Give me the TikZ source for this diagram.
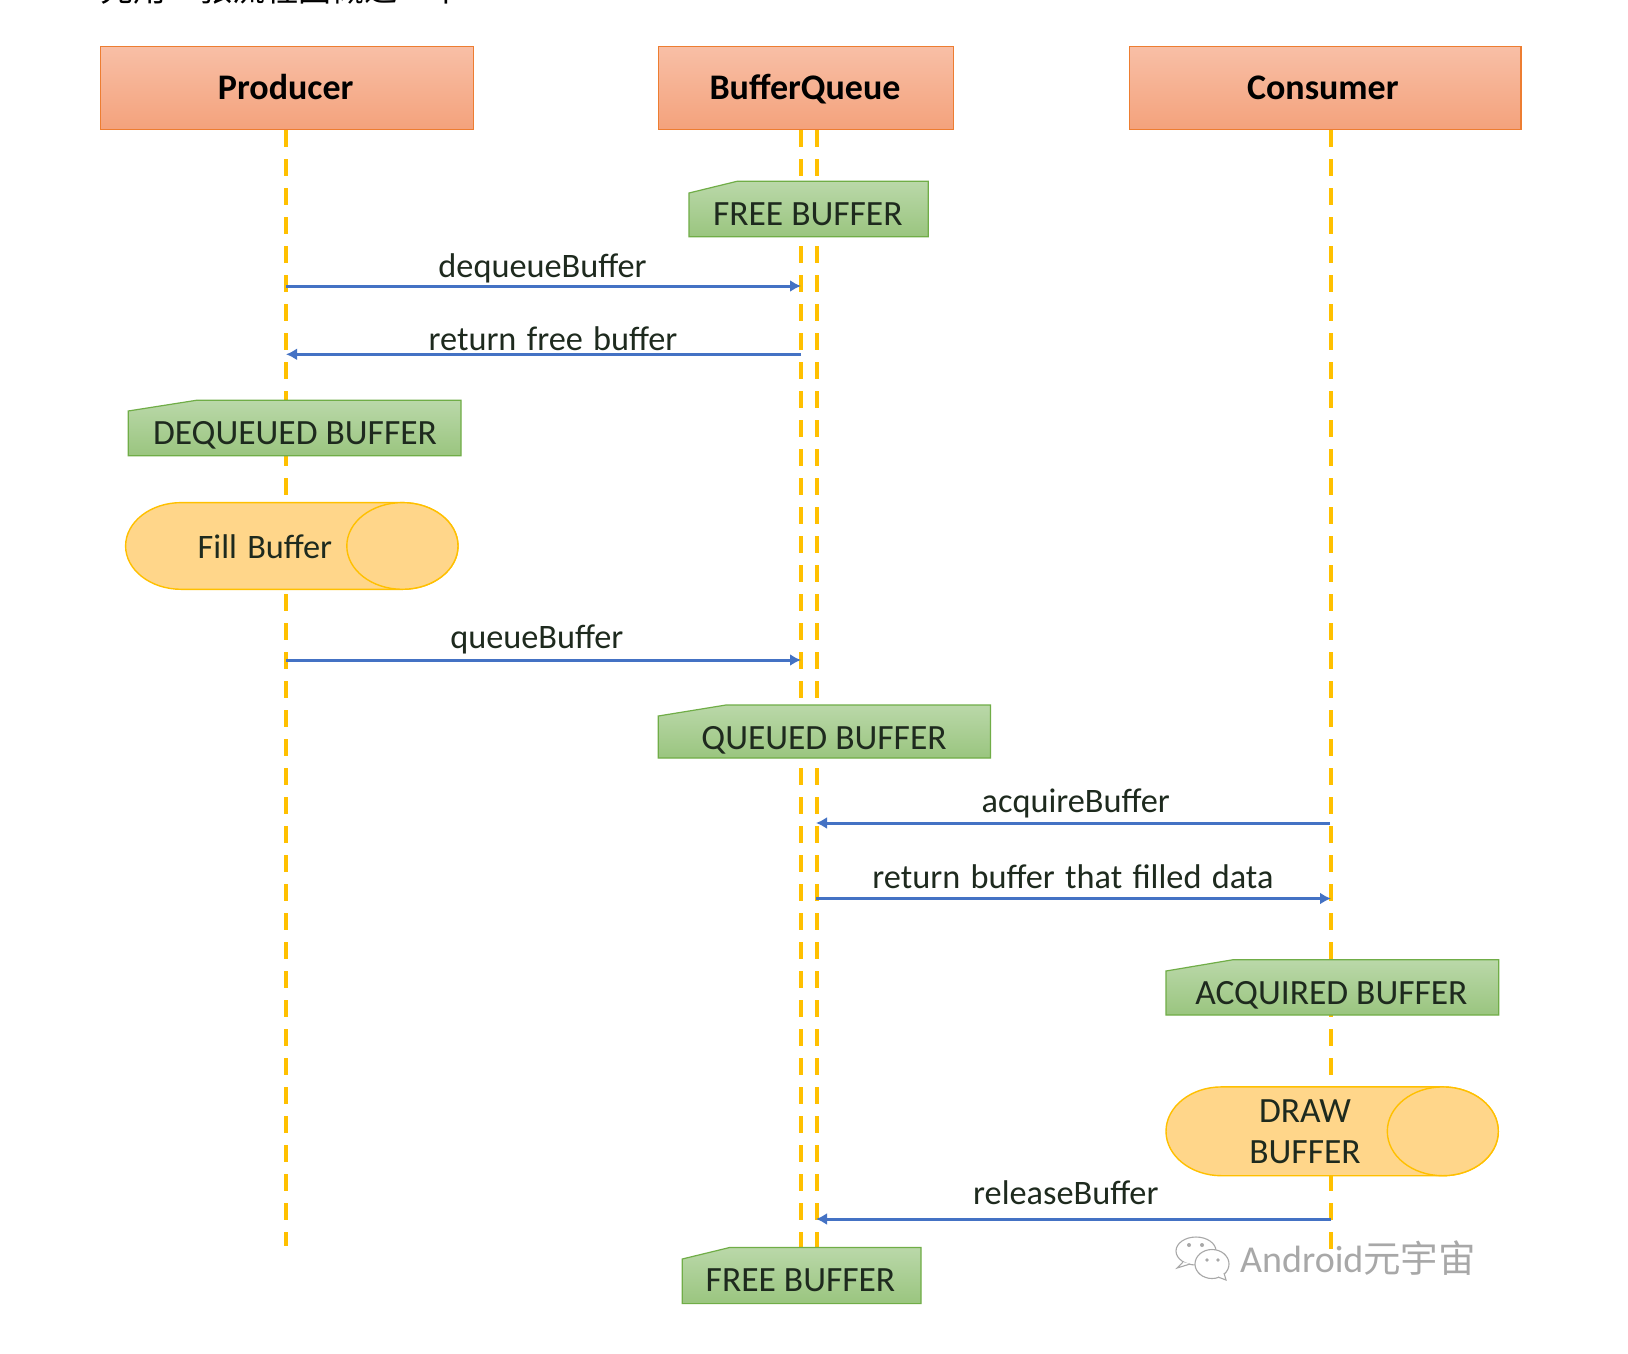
\documentclass[tikz,border=0pt]{standalone}
\usepackage{fontspec}
\setmainfont{Carlito}
\newfontfamily\lblfont[WordSpace=1.33]{Carlito}
\newfontfamily\cjk{Noto Sans CJK SC}
\usetikzlibrary{arrows.meta}
\definecolor{hdrtop}{HTML}{F8BFA6}
\definecolor{hdrbot}{HTML}{F4A27C}
\definecolor{hdredge}{HTML}{ED7D31}
\definecolor{grntop}{HTML}{BAD8A9}
\definecolor{grnbot}{HTML}{9AC57F}
\definecolor{grnedge}{HTML}{70AD47}
\definecolor{canfill}{HTML}{FFD68A}
\definecolor{canedge}{HTML}{FFC000}
\definecolor{msg}{HTML}{4472C4}
\definecolor{ink}{HTML}{1E2A1E}
\definecolor{wm}{HTML}{A8A8A8}
\tikzset{
  hdr/.style={draw=hdredge,line width=1.2pt,top color=hdrtop,bottom color=hdrbot,
    minimum height=82.8pt,inner sep=0pt},
  hdrtxt/.style={anchor=base,inner sep=0pt,text=black,font=\fontsize{36}{42}\selectfont\bfseries},
  life/.style={draw=canedge,line width=4pt,dash pattern=on 17pt off 12pt},
  snip/.style={draw=grnedge,line width=1.2pt,top color=grntop,bottom color=grnbot},
  cyl/.style={draw=canedge,line width=1.4pt,fill=canfill},
  lbl/.style={anchor=base,inner sep=0pt,text=ink,font=\lblfont\fontsize{34.3}{40.7}\selectfont},
  caps/.style={anchor=base,inner sep=0pt,text=ink,font=\fontsize{35.5}{40.7}\selectfont},
  msgline/.style={draw=msg,line width=3pt,-{Latex[length=11pt,width=12pt]}},
  wmline/.style={draw=wm,line width=1.1pt,fill=white},
}
\begin{document}
\begin{tikzpicture}[x=1pt,y=-1pt]
\useasboundingbox (0,0) rectangle (1628,1353);
\fill[white] (0,0) rectangle (1628,1353);
% clipped line of text at the very top
\begin{scope}
\clip (0,0) rectangle (1628,3);
\node[anchor=base west,inner sep=0pt,text=black,font=\fontsize{33}{40}\selectfont\cjk] (intro) at (100,1.3) {先用一张流程图概述一下};
\end{scope}
% headers
\node[hdr,minimum width=373.3pt] (producer) at (286.85,87.8) {};
\node[hdr,minimum width=294.8pt] (queue) at (805.8,87.8) {};
\node[hdr,minimum width=391.3pt] (consumer) at (1325.4,87.8) {};
\node[hdrtxt] (producertxt) at (285.7,99) {Producer};
\node[hdrtxt] (queuetxt) at (805,99) {BufferQueue};
\node[hdrtxt] (consumertxt) at (1322.8,99) {Consumer};
% lifeline anchors
\coordinate (pA) at (286,130);  \coordinate (pB) at (286,1246);
\coordinate (qA) at (801,130);  \coordinate (qB) at (801,1247);
\coordinate (rA) at (816.5,130);\coordinate (rB) at (816.5,1247);
\coordinate (cA) at (1330.5,130);\coordinate (cB) at (1330.5,1252);
\draw[life] (pA) -- (pB);
\draw[life] (qA) -- (qB);
\draw[life] (rA) -- (rB);
\draw[life] (cA) -- (cB);
% state tags
\path[snip] (689,193) -- (737,181.3) -- (928.3,181.3) -- (928.3,236.8) -- (689,236.8) -- cycle;
\node[caps] (free1) at (807.8,225) {FREE BUFFER};
\path[snip] (128.2,411) -- (196.3,400.3) -- (461,400.3) -- (461,455.8) -- (128.2,455.8) -- cycle;
\node[caps] (dequeued) at (295,444.5) {DEQUEUED BUFFER};
\path[snip] (658.3,716) -- (726,705) -- (990.5,705) -- (990.5,758) -- (658.3,758) -- cycle;
\node[caps] (queued) at (824,749.5) {QUEUED BUFFER};
\path[snip] (1166,971) -- (1232.5,959.8) -- (1498.8,959.8) -- (1498.8,1015) -- (1166,1015) -- cycle;
\node[caps] (acquired) at (1331.4,1004) {ACQUIRED BUFFER};
\path[snip] (682.2,1259) -- (730,1247.4) -- (921,1247.4) -- (921,1303.6) -- (682.2,1303.6) -- cycle;
\node[caps] (free2) at (800.5,1291.2) {FREE BUFFER};
% process cans
\path[cyl] (402.4,502.6) -- (181.2,502.6) arc[x radius=55.6pt,y radius=43.35pt,start angle=90,end angle=270]
  -- (402.4,589.3) arc[x radius=55.6pt,y radius=43.35pt,start angle=-90,end angle=90] -- cycle;
\draw[cyl] (402.4,545.95) ellipse[x radius=55.6pt,y radius=43.35pt];
\node[lbl] (fill) at (265,558) {Fill Buffer};
\path[cyl] (1442.8,1086.9) -- (1221.5,1086.9) arc[x radius=55.5pt,y radius=44.4pt,start angle=90,end angle=270]
  -- (1442.8,1175.7) arc[x radius=55.5pt,y radius=44.4pt,start angle=-90,end angle=90] -- cycle;
\draw[cyl] (1442.8,1131.3) ellipse[x radius=55.5pt,y radius=44.4pt];
\node[caps] (drawa) at (1305,1122.5) {DRAW};
\node[caps] (drawb) at (1305,1163.2) {BUFFER};
% message anchors
\coordinate (m1a) at (286,286);   \coordinate (m1b) at (801,286);
\coordinate (m2a) at (801,354.3); \coordinate (m2b) at (286,354.3);
\coordinate (m3a) at (286,660);   \coordinate (m3b) at (801,660);
\coordinate (m4a) at (1330,823);  \coordinate (m4b) at (816,823);
\coordinate (m5a) at (816,898.5); \coordinate (m5b) at (1331,898.5);
\coordinate (m6a) at (1331,1219); \coordinate (m6b) at (816,1219);
\draw[msgline] (m1a) -- (m1b);
\draw[msgline] (m2a) -- (m2b);
\draw[msgline] (m3a) -- (m3b);
\draw[msgline] (m4a) -- (m4b);
\draw[msgline] (m5a) -- (m5b);
\draw[msgline] (m6a) -- (m6b);
\node[lbl] (l1) at (542.5,277.5) {dequeueBuffer};
\node[lbl] (l2) at (553,350) {return free buffer};
\node[lbl] (l3) at (536.8,648.5) {queueBuffer};
\node[lbl] (l4) at (1075.7,812) {acquireBuffer};
\node[lbl] (l5) at (1073,888) {return buffer that filled data};
\node[lbl] (l6) at (1065.8,1204) {releaseBuffer};
% watermark
\draw[wmline] (1196,1251) ellipse[x radius=20pt,y radius=14pt];
\draw[wmline] (1183,1262) -- (1177,1268) -- (1190,1264);
\draw[wmline] (1212,1264) ellipse[x radius=17pt,y radius=14.5pt];
\draw[wmline] (1218,1277) -- (1226,1280) -- (1224,1273);
\fill[wm] (1189,1245) circle[radius=2pt] (1202,1245) circle[radius=2pt] (1207,1260) circle[radius=1.8pt] (1218,1260) circle[radius=1.8pt];
\node[anchor=base west,inner sep=0pt,text=wm,font=\fontsize{38}{44}\selectfont] (wmark) at (1240,1272) {Android{\cjk\fontsize{37.5}{44}\selectfont 元宇宙}};
\end{tikzpicture}
\end{document}
